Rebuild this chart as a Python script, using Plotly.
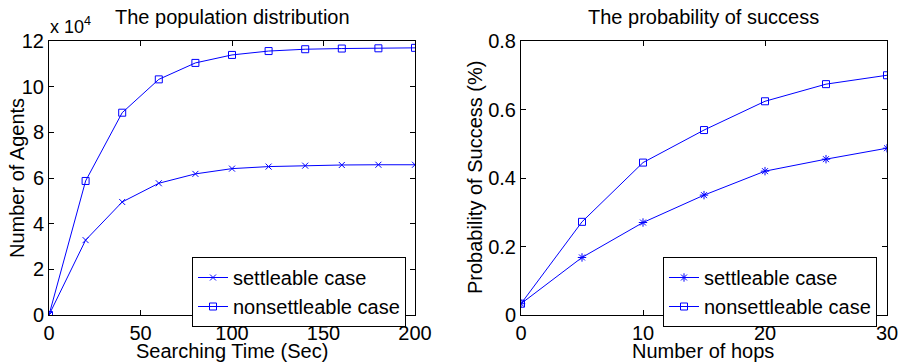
import numpy as np
import plotly.graph_objects as go

# Left panel data
search_time = [0, 20, 40, 60, 80, 100, 120, 140, 160, 180, 200]
agents_settleable = [0, 32800, 49500, 57700, 61800, 64100, 65000, 65400, 65700, 65800, 65800]
agents_nonsettleable = [0, 58700, 88600, 103200, 110400, 113900, 115600, 116400, 116700, 116800, 117000]

# Right panel data
hops = [0, 5, 10, 15, 20, 25, 30]
prob_settleable = [0.033, 0.168, 0.270, 0.350, 0.420, 0.455, 0.487]
prob_nonsettleable = [0.033, 0.272, 0.445, 0.540, 0.624, 0.674, 0.700]

left_yticks = [0, 2, 4, 6, 8, 10, 12]
left_xticks = [0, 50, 100, 150, 200]
right_yticks = [0, 0.2, 0.4, 0.6, 0.8]
right_xticks = [0, 10, 20, 30]

BLUE = "#0000ff"
FONT = "Liberation Sans"
FS = 20

fig = go.Figure()

scale = 1e4
fig.add_trace(go.Scatter(x=search_time, y=np.array(agents_settleable) / scale,
                         mode="lines+markers", name="settleable case",
                         line=dict(color=BLUE, width=1),
                         marker=dict(symbol="x-thin-open", size=6, color=BLUE, line=dict(color=BLUE, width=1)),
                         xaxis="x", yaxis="y", legend="legend"))
fig.add_trace(go.Scatter(x=search_time, y=np.array(agents_nonsettleable) / scale,
                         mode="lines+markers", name="nonsettleable case",
                         line=dict(color=BLUE, width=1),
                         marker=dict(symbol="square-open", size=7, color=BLUE, line=dict(color=BLUE, width=1)),
                         xaxis="x", yaxis="y", legend="legend"))
fig.add_trace(go.Scatter(x=hops, y=prob_settleable,
                         mode="lines+markers", name="settleable case",
                         line=dict(color=BLUE, width=1),
                         marker=dict(symbol="asterisk-open", size=7, color=BLUE, line=dict(color=BLUE, width=1)),
                         xaxis="x2", yaxis="y2", legend="legend2"))
fig.add_trace(go.Scatter(x=hops, y=prob_nonsettleable,
                         mode="lines+markers", name="nonsettleable case",
                         line=dict(color=BLUE, width=1),
                         marker=dict(symbol="square-open", size=7, color=BLUE, line=dict(color=BLUE, width=1)),
                         xaxis="x2", yaxis="y2", legend="legend2"))

W, H = 902, 362
def px(x):
    return x / W
def py(y):
    return (H - y) / H

axis_common = dict(showline=True, linecolor="black", linewidth=1, mirror="ticks",
                   ticks="inside", ticklen=5, tickcolor="black", showgrid=False,
                   zeroline=False, automargin=False,
                   tickfont=dict(family=FONT, size=FS, color="black"))

legend_common = dict(xanchor="left", yanchor="top",
                     bgcolor="white", bordercolor="black", borderwidth=1,
                     font=dict(family=FONT, size=FS, color="black"),
                     tracegroupgap=0, itemwidth=30)

fig.update_layout(
    width=W, height=H,
    margin=dict(l=0, r=0, t=0, b=0, autoexpand=False),
    paper_bgcolor="white", plot_bgcolor="white",
    font=dict(family=FONT, color="black"),
    xaxis=dict(domain=[px(49), px(415)], range=[0, 200], tickvals=left_xticks, anchor="y", **axis_common),
    yaxis=dict(domain=[py(315), py(41)], range=[0, 12], tickvals=left_yticks, anchor="x", **axis_common),
    xaxis2=dict(domain=[px(521), px(887)], range=[0, 30], tickvals=right_xticks, anchor="y2", **axis_common),
    yaxis2=dict(domain=[py(315), py(41)], range=[0, 0.8], tickvals=right_yticks, anchor="x2", **axis_common),
    legend=dict(x=px(192), y=py(257), **legend_common),
    legend2=dict(x=px(663), y=py(257), **legend_common),
    showlegend=True,
)

ann = [
    dict(text="The population distribution", x=px(232), y=py(17)),
    dict(text="The probability of success", x=px(703), y=py(17)),
    dict(text="Searching Time (Sec)", x=px(232), y=py(351)),
    dict(text="Number of hops", x=px(703), y=py(351)),
]
for a in ann:
    fig.add_annotation(text=a["text"], x=a["x"], y=a["y"], xref="paper", yref="paper",
                       xanchor="center", yanchor="middle", showarrow=False,
                       font=dict(family=FONT, size=FS, color="black"))

fig.add_annotation(text="Number of Agents", x=px(17), y=py(178), xref="paper", yref="paper",
                   xanchor="center", yanchor="middle", showarrow=False, textangle=-90,
                   font=dict(family=FONT, size=FS, color="black"))
fig.add_annotation(text="Probability of Success (%)", x=px(475), y=py(178), xref="paper", yref="paper",
                   xanchor="center", yanchor="middle", showarrow=False, textangle=-90,
                   font=dict(family=FONT, size=FS, color="black"))
fig.add_annotation(text="x 10<sup>4</sup>", x=px(48), y=py(39), xref="paper", yref="paper",
                   xanchor="left", yanchor="bottom", showarrow=False,
                   font=dict(family=FONT, size=18, color="black"))

fig.write_html("out.html", config={"displayModeBar": False},
               post_script="document.body.style.margin='0';document.body.style.overflow='hidden';")
